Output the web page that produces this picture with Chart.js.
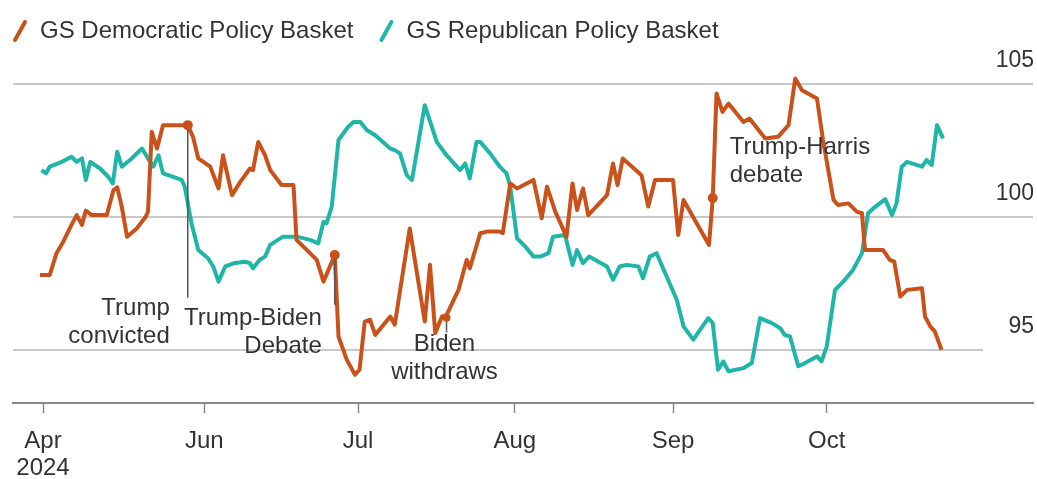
<!DOCTYPE html>
<html>
<head>
<meta charset="utf-8">
<script src="https://cdn.jsdelivr.net/npm/chart.js@4.4.1/dist/chart.umd.min.js"></script>
<style>
  html, body { margin: 0; padding: 0; background: #fff; }
  #wrap { width: 1037px; height: 479px; }
</style>
</head>
<body>
<div id="wrap"><canvas id="chart"></canvas></div>
<script>
// x values are trading days counted from the start of April 2024
const demDays = [-0.4, 0.9, 1.8, 2.7, 3.9, 4.5, 5.2, 5.7, 6.5, 8.5, 9.4, 9.9, 10.5, 11.2, 12.5, 13.7, 14.0, 14.5, 15.2, 16.0,
  17.8, 19.3, 20.0, 20.7, 22.3, 23.4, 24.0, 25.2, 26.3, 27.6, 28.0, 28.7, 29.6, 30.3, 31.8, 33.4, 33.8, 35.6, 36.5, 37.4,
  38.9, 39.4, 40.5, 41.6, 42.2, 42.9, 43.6, 44.3, 46.3, 46.9, 48.9, 50.9, 51.6, 52.3, 53.2, 53.8, 55.4, 56.5, 56.9, 58.3,
  59.2, 60.9, 61.3, 62.3, 63.2, 65.4, 66.5, 67.2, 68.3, 69.8, 70.6, 71.2, 72.0, 72.7, 75.2, 76.0, 76.6, 77.3, 79.8, 80.7,
  81.6, 84.0, 84.7, 85.4, 88.8, 89.3, 89.8, 90.6, 91.4, 93.4, 94.2, 96.3, 98.0, 99.4, 100.3, 101.2, 103.2, 104.0, 105.4, 106.0,
  107.4, 108.5, 109.2, 109.6, 112.0, 112.9, 113.5, 114.3, 115.2, 117.2, 117.6, 118.3, 118.9, 119.8]
const demValues = [97.81, 97.81, 98.63, 99.06, 99.75, 100.06, 99.69, 100.23, 100.06, 100.06, 101.0, 101.1, 100.38, 99.25, 99.56, 100.0, 100.19, 103.19, 102.56, 103.44,
  103.44, 103.44, 103.0, 102.19, 101.88, 101.06, 102.31, 100.81, 101.31, 101.81, 101.75, 102.81, 102.31, 101.75, 101.19, 101.19, 99.13, 98.63, 98.38, 97.56,
  98.56, 95.5, 94.63, 94.06, 94.25, 96.06, 96.13, 95.56, 96.25, 95.94, 99.56, 96.06, 98.19, 95.63, 96.25, 96.3, 97.25, 98.38, 98.06, 99.38,
  99.44, 99.44, 99.38, 101.25, 101.06, 101.38, 99.94, 101.13, 100.19, 99.25, 101.25, 100.25, 101.06, 100.06, 100.81, 102.0, 101.19, 102.19, 101.56, 100.38,
  101.38, 101.38, 99.31, 100.63, 98.94, 100.7, 104.63, 103.94, 104.25, 103.56, 103.69, 102.94, 103.0, 103.44, 105.19, 104.75, 104.44, 102.88, 100.63, 100.44,
  100.5, 100.19, 100.13, 98.75, 98.75, 98.38, 98.31, 97.0, 97.25, 97.31, 96.25, 95.88, 95.69, 95.0]

const repDays = [-0.2, 0.4, 0.9, 2.5, 3.8, 4.5, 5.2, 5.7, 6.3, 7.6, 8.7, 9.3, 9.9, 10.5, 11.6, 13.2, 14.0, 14.7, 15.4, 16.0,
  18.5, 18.9, 19.8, 20.7, 22.0, 22.7, 23.4, 24.3, 25.4, 26.9, 27.6, 28.0, 28.9, 29.6, 30.3, 32.0, 33.8, 35.6, 36.7, 37.4,
  37.8, 38.5, 39.4, 40.7, 41.4, 42.3, 43.2, 44.3, 46.3, 46.9, 47.6, 48.5, 49.2, 50.9, 52.5, 53.8, 55.6, 56.3, 56.9, 57.8,
  58.3, 59.6, 60.9, 61.8, 62.3, 63.2, 64.3, 65.4, 66.3, 67.4, 68.0, 69.6, 70.6, 71.2, 72.0, 72.8, 75.2, 76.0, 76.9, 77.8,
  79.4, 80.0, 80.9, 81.8, 84.5, 85.4, 86.7, 88.7, 89.3, 90.0, 90.7, 91.4, 93.4, 94.5, 95.6, 97.2, 98.3, 98.9, 99.6, 100.7,
  101.6, 103.2, 103.8, 104.5, 105.6, 106.7, 108.0, 109.2, 110.0, 110.7, 112.3, 113.2, 113.8, 114.5, 115.2, 117.2, 117.8, 118.5, 119.2, 120.0]
const repValues = [101.75, 101.63, 101.88, 102.06, 102.25, 102.06, 102.19, 101.38, 102.06, 101.81, 101.5, 101.25, 102.44, 101.88, 102.13, 102.56, 102.19, 101.88, 102.31, 101.63,
  101.38, 101.13, 99.75, 98.75, 98.44, 98.13, 97.56, 98.13, 98.25, 98.31, 98.25, 98.06, 98.38, 98.5, 98.94, 99.25, 99.25, 99.13, 99.0, 99.81,
  99.75, 100.38, 102.88, 103.38, 103.56, 103.56, 103.25, 103.06, 102.56, 102.5, 102.38, 101.56, 101.38, 104.19, 102.81, 102.31, 101.75, 102.0, 101.44, 102.81,
  102.81, 102.38, 101.88, 101.63, 101.13, 99.19, 98.88, 98.5, 98.5, 98.63, 99.25, 99.31, 98.19, 98.75, 98.25, 98.5, 98.13, 97.63, 98.13, 98.19,
  98.13, 97.69, 98.5, 98.63, 96.88, 95.88, 95.38, 96.19, 96.0, 94.25, 94.56, 94.19, 94.31, 94.5, 96.19, 96.0, 95.81, 95.56, 95.5, 94.38,
  94.5, 94.75, 94.56, 95.13, 97.25, 97.56, 98.0, 98.63, 100.13, 100.31, 100.66, 100.06, 100.5, 101.88, 102.06, 101.88, 102.13, 101.94, 103.44, 102.94]

const monthTicks = [0, 21.5, 42.0, 62.9, 84.0, 104.5]
const monthLabels = [['Apr', '2024'], 'Jun', 'Jul', 'Aug', 'Sep', 'Oct']
const yTicks = [95, 100, 105]

// event markers: day, value at the dot, value where the pointer line stops
const events = [
  { text: ['Trump', 'convicted'], day: 19.3, value: 103.44, lineTo: 96.95 },
  { text: ['Trump-Biden', 'Debate'], day: 38.9, value: 98.56, lineTo: 96.69 },
  { text: ['Biden', 'withdraws'], day: 53.8, value: 96.2, lineTo: 95.65 },
  { text: ['Trump-Harris', 'debate'], day: 89.3, value: 100.7, lineTo: null }
]
const eventLayout = [
  { align: 'right', dx: -18, dy: 183, r: 5 },
  { align: 'right', dx: -13, dy: 63, r: 5 },
  { align: 'center', dx: -2, dy: 27, r: 4 },
  { align: 'left', dx: 17, dy: -51, r: 5 }
]

const DEM = '#c9521b'
const REP = '#1fb6a8'
const FONT = '"Liberation Sans", Arial, sans-serif'

const legendPlugin = {
  id: 'topLegend',
  afterDraw(chart) {
    const { ctx } = chart
    ctx.save()
    ctx.font = '24px ' + FONT
    ctx.textBaseline = 'middle'
    ctx.textAlign = 'left'
    let x = 13
    chart.data.datasets.forEach(ds => {
      ctx.strokeStyle = ds.borderColor
      ctx.lineWidth = 4
      ctx.lineCap = 'round'
      ctx.beginPath()
      ctx.moveTo(x + 2, 40)
      ctx.lineTo(x + 12, 22)
      ctx.stroke()
      ctx.fillStyle = '#333'
      ctx.fillText(ds.label, x + 27, 31)
      x += 27 + ctx.measureText(ds.label).width + 26
    })
    ctx.restore()
  }
}

const gridPlugin = {
  id: 'grid',
  beforeDatasetsDraw(chart) {
    const { ctx, chartArea, scales: { y } } = chart
    ctx.save()
    ctx.strokeStyle = '#c8c8c8'
    ctx.lineWidth = 2
    yTicks.forEach(v => {
      const py = Math.round(y.getPixelForValue(v))
      const right = v === 95 ? chartArea.right - 50 : chartArea.right
      ctx.beginPath()
      ctx.moveTo(chartArea.left, py)
      ctx.lineTo(right, py)
      ctx.stroke()
    })
    ctx.restore()
  }
}

const eventPlugin = {
  id: 'events',
  afterDatasetsDraw(chart) {
    const { ctx, scales: { x, y } } = chart
    ctx.save()
    events.forEach((e, i) => {
      const lay = eventLayout[i]
      const px = x.getPixelForValue(e.day)
      const py = y.getPixelForValue(e.value)
      if (e.lineTo !== null) {
        ctx.strokeStyle = '#555'
        ctx.lineWidth = 1.5
        ctx.beginPath()
        ctx.moveTo(px, py)
        ctx.lineTo(px, y.getPixelForValue(e.lineTo))
        ctx.stroke()
      }
      ctx.fillStyle = DEM
      ctx.beginPath()
      ctx.arc(px, py, lay.r, 0, Math.PI * 2)
      ctx.fill()
      ctx.fillStyle = '#333'
      ctx.font = '24px ' + FONT
      ctx.textAlign = lay.align
      ctx.textBaseline = 'middle'
      e.text.forEach((t, k) => {
        ctx.fillText(t, px + lay.dx, py + lay.dy + k * 28)
      })
    })
    ctx.restore()
  }
}

new Chart(document.getElementById('chart'), {
  type: 'line',
  data: {
    datasets: [
      {
        label: 'GS Democratic Policy Basket',
        data: demDays.map((d, i) => ({ x: d, y: demValues[i] })),
        borderColor: DEM,
        backgroundColor: DEM,
        borderWidth: 4,
        pointRadius: 0,
        tension: 0,
        borderJoinStyle: 'round'
      },
      {
        label: 'GS Republican Policy Basket',
        data: repDays.map((d, i) => ({ x: d, y: repValues[i] })),
        borderColor: REP,
        backgroundColor: REP,
        borderWidth: 4,
        pointRadius: 0,
        tension: 0,
        borderJoinStyle: 'round'
      }
    ]
  },
  options: {
    responsive: true,
    maintainAspectRatio: false,
    animation: false,
    layout: { padding: { left: 13, right: 2, top: 57, bottom: 0 } },
    plugins: {
      tooltip: { enabled: false },
      legend: { display: false }
    },
    scales: {
      x: {
        type: 'linear',
        min: -4,
        max: 132,
        afterBuildTicks: axis => { axis.ticks = monthTicks.map(v => ({ value: v })) },
        afterFit: axis => { axis.height = 76 },
        ticks: {
          autoSkip: false,
          maxRotation: 0,
          padding: 15,
          color: '#333',
          font: { family: FONT, size: 24, lineHeight: 1.12 },
          callback: (v, i) => monthLabels[i]
        },
        grid: { drawOnChartArea: false, drawTicks: true, tickLength: 10, tickColor: '#888', tickWidth: 1.5 },
        border: { display: true, color: '#888', width: 2 }
      },
      y: {
        position: 'right',
        min: 93,
        max: 106,
        afterBuildTicks: axis => { axis.ticks = yTicks.map(v => ({ value: v })) },
        ticks: {
          mirror: true,
          padding: 1,
          labelOffset: -23,
          color: '#333',
          font: { family: FONT, size: 23 }
        },
        grid: { display: false, drawTicks: false },
        border: { display: false }
      }
    }
  },
  plugins: [gridPlugin, eventPlugin, legendPlugin]
})
</script>
</body>
</html>
